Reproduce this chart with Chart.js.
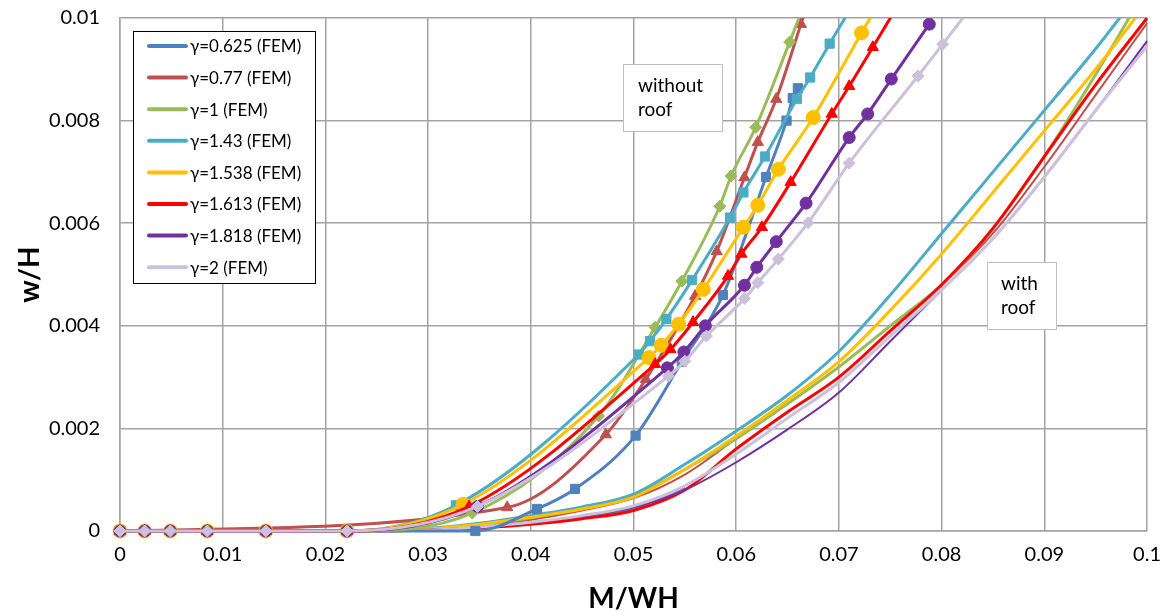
<!DOCTYPE html>
<html>
<head>
<meta charset="utf-8">
<script src="https://cdn.jsdelivr.net/npm/chart.js@4/dist/chart.umd.min.js"></script>
<style>
html,body{margin:0;padding:0;background:#fff;}
#wrap{position:relative;width:1173px;height:616px;}
</style>
</head>
<body>
<div id="wrap"><canvas id="c" width="1173" height="616"></canvas></div>
<script>
// ---------- tick labels ----------
const xTickLabels = ['0','0.01','0.02','0.03','0.04','0.05','0.06','0.07','0.08','0.09','0.1'];
const yTickLabels = ['0','0.002','0.004','0.006','0.008','0.01'];

// ---------- series names ----------
const seriesLabels = ['γ=0.625 (FEM)','γ=0.77 (FEM)','γ=1 (FEM)','γ=1.43 (FEM)','γ=1.538 (FEM)','γ=1.613 (FEM)','γ=1.818 (FEM)','γ=2 (FEM)'];

// ---------- "without roof" curves: [M/WH, w/H] ----------
const noRoof_0625 = [[0,0],[0.0024,0],[0.0049,0],[0.0085,0],[0.0142,0],[0.0221,0],[0.0346,0],[0.0406,0.00043],[0.0443,0.00082],[0.0502,0.00186],[0.0547,0.0033],[0.0587,0.0046],[0.0629,0.0069],[0.0649,0.0080],[0.0655,0.00844],[0.0660,0.00863]];
const noRoof_077  = [[0,0],[0.0377,0.00046],[0.0473,0.00188],[0.0512,0.00296],[0.0560,0.00458],[0.0581,0.00545],[0.0608,0.00689],[0.0621,0.00758],[0.0639,0.00842],[0.0663,0.00988],[0.0673,0.0105]];
const noRoof_1    = [[0,0],[0.0024,0],[0.0049,0],[0.0085,0],[0.0142,0],[0.0221,0],[0.0343,0.00035],[0.0466,0.00224],[0.0521,0.00397],[0.0547,0.00487],[0.0584,0.00633],[0.0595,0.00692],[0.0619,0.00787],[0.0652,0.00953],[0.0671,0.0105]];
const noRoof_143  = [[0,0],[0.0024,0],[0.0049,0],[0.0085,0],[0.0142,0],[0.0221,0],[0.0327,0.0005],[0.0505,0.00344],[0.0516,0.0037],[0.0532,0.00413],[0.0557,0.00489],[0.0594,0.00611],[0.0607,0.0066],[0.0628,0.0073],[0.0659,0.00842],[0.0672,0.00884],[0.0691,0.0095],[0.0721,0.0105]];
const noRoof_1538 = [[0,0],[0.0024,0],[0.0049,0],[0.0085,0],[0.0142,0],[0.0221,0],[0.0334,0.00052],[0.0515,0.00338],[0.0527,0.00362],[0.0544,0.00403],[0.0568,0.00471],[0.0607,0.00592],[0.0621,0.00635],[0.0641,0.00705],[0.0675,0.00806],[0.0722,0.00971],[0.0745,0.0105]];
const noRoof_1613 = [[0,0],[0.0024,0],[0.0049,0],[0.0085,0],[0.0142,0],[0.0221,0],[0.0340,0.00048],[0.0521,0.00325],[0.0536,0.00354],[0.0558,0.00407],[0.0592,0.00497],[0.0605,0.0054],[0.0625,0.00592],[0.0653,0.0068],[0.0693,0.00813],[0.0710,0.00867],[0.0733,0.00943],[0.0765,0.0105]];
const noRoof_1818 = [[0,0],[0.0024,0],[0.0049,0],[0.0085,0],[0.0142,0],[0.0221,0],[0.0348,0.00048],[0.0533,0.00318],[0.0549,0.00349],[0.0570,0.0040],[0.0608,0.00479],[0.0620,0.00514],[0.0639,0.00564],[0.0668,0.00639],[0.0710,0.00767],[0.0728,0.00813],[0.0751,0.00881],[0.0788,0.00988]];
const noRoof_2    = [[0,0],[0.0024,0],[0.0049,0],[0.0085,0],[0.0142,0],[0.0221,0],[0.0348,0.00048],[0.0534,0.00302],[0.0550,0.00331],[0.0571,0.0038],[0.0608,0.00453],[0.0621,0.00484],[0.0641,0.0053],[0.0670,0.00601],[0.0710,0.00717],[0.0777,0.00887],[0.0801,0.00949],[0.0840,0.0105]];

// ---------- "with roof" curves (shared M/WH values) ----------
const roofX      = [0, 0.02, 0.03, 0.035, 0.04, 0.045, 0.05, 0.055, 0.06, 0.065, 0.07, 0.075, 0.08, 0.085, 0.09, 0.095, 0.1];
const roof_0625  = [0, 0, 0.00002, 0.00007, 0.00016, 0.00028, 0.00045, 0.00085, null, null, null, null, null, null, null, null, null];
const roof_077   = [0, 0, 0.00003, 0.0001, 0.00022, 0.0004, 0.00064, 0.0011, 0.0018, 0.00248, 0.0032, 0.0040, 0.0048, 0.0058, 0.0071, 0.0085, 0.0099];
const roof_1     = [0, 0, 0.00003, 0.00012, 0.00026, 0.00044, 0.00068, 0.0012, 0.0018, 0.00248, 0.0032, 0.0040, 0.0048, 0.0059, 0.0073, 0.0089, 0.0106];
const roof_143   = [0, 0, 0.00005, 0.00015, 0.0003, 0.00047, 0.00072, 0.0013, 0.00195, 0.00265, 0.0035, 0.0046, 0.0058, 0.0070, 0.0082, 0.0094, 0.0107];
const roof_1538  = [0, 0, 0.00004, 0.00013, 0.00027, 0.00043, 0.00066, 0.0012, 0.00185, 0.00255, 0.0033, 0.0043, 0.0054, 0.0066, 0.0078, 0.0090, 0.0103];
const roof_1613  = [0, 0, 0.00002, 0.00006, 0.00013, 0.00024, 0.0004, 0.0008, 0.0016, 0.00232, 0.0030, 0.0039, 0.0048, 0.0059, 0.0073, 0.0087, 0.0100];
const roof_1818  = [0, 0, 0.00002, 0.00007, 0.00016, 0.00029, 0.00046, 0.0008, 0.00134, 0.00198, 0.0027, 0.0037, 0.0047, 0.0057, 0.0069, 0.0082, 0.00955];
const roof_2     = [0, 0, 0.00002, 0.00008, 0.00017, 0.0003, 0.00049, 0.00088, 0.0015, 0.0022, 0.0029, 0.0038, 0.0047, 0.0057, 0.0069, 0.0082, 0.00945];

// ---------- styles ----------
const colors  = ['#4F81BD','#C0504D','#9BBB59','#4BACC6','#FFC000','#FF0000','#7030A0','#CCC0DA'];
const markers = ['rect','triangle','rectRot','rect','circle','triangle','circle','rectRot'];
const markerR = [6.5, 6.5, 6, 6.5, 7, 6.5, 6, 6];
const roofWidth = [3, 2, 3, 3, 3, 3, 2, 3];

const noRoofSets = [noRoof_0625, noRoof_077, noRoof_1, noRoof_143, noRoof_1538, noRoof_1613, noRoof_1818, noRoof_2];
const roofSets   = [roof_0625, roof_077, roof_1, roof_143, roof_1538, roof_1613, roof_1818, roof_2];

const clipBox = {left: 12, top: 0, right: 1, bottom: 12};
const datasets = [];
roofSets.forEach((ys, i) => {
  const pts = [];
  roofX.forEach((x, j) => { if (ys[j] !== null) pts.push({x: x, y: ys[j]}); });
  datasets.push({
    label: seriesLabels[i] + ' with roof', data: pts, showLine: true,
    borderColor: colors[i], backgroundColor: colors[i], borderWidth: roofWidth[i],
    pointRadius: 0, pointHoverRadius: 0, cubicInterpolationMode: 'monotone',
    clip: clipBox, legendKey: false
  });
});
noRoofSets.forEach((arr, i) => {
  datasets.push({
    label: seriesLabels[i], data: arr.map(p => ({x: p[0], y: p[1]})), showLine: true,
    borderColor: colors[i], backgroundColor: colors[i], borderWidth: 3,
    pointStyle: markers[i], pointRadius: markerR[i], pointHoverRadius: markerR[i],
    pointBackgroundColor: colors[i], pointBorderColor: colors[i], pointBorderWidth: 1,
    cubicInterpolationMode: 'monotone', clip: clipBox, legendKey: true
  });
});
datasets.forEach((d, k) => { d.order = datasets.length - k; });

const FONT = 'Lato';
const GRID = '#A3A3A3';

const overlay = {
  id: 'overlay',
  afterDraw(chart) {
    const ctx = chart.ctx;
    ctx.save();
    // legend
    ctx.fillStyle = '#fff';
    ctx.fillRect(133.5, 31.5, 182, 252);
    ctx.strokeStyle = '#000';
    ctx.lineWidth = 1;
    ctx.strokeRect(133.5, 31.5, 182, 252);
    ctx.font = '17px ' + FONT;
    ctx.textBaseline = 'middle';
    ctx.textAlign = 'left';
    chart.data.datasets.filter(d => d.legendKey).forEach((d, i) => {
      const y = 46 + i * 31.6;
      ctx.strokeStyle = d.borderColor;
      ctx.lineWidth = 4;
      ctx.lineCap = 'round';
      ctx.beginPath(); ctx.moveTo(149, y); ctx.lineTo(186, y); ctx.stroke();
      ctx.fillStyle = '#000';
      ctx.fillText(d.label, 190, y + 1);
    });
    // annotation boxes
    ctx.lineCap = 'butt';
    ctx.lineWidth = 1;
    ctx.strokeStyle = '#BFBFBF';
    ctx.fillStyle = '#fff';
    ctx.fillRect(623.5, 64.5, 99, 67); ctx.strokeRect(623.5, 64.5, 99, 67);
    ctx.fillRect(987.5, 262.5, 69, 67); ctx.strokeRect(987.5, 262.5, 69, 67);
    ctx.fillStyle = '#000';
    ctx.font = '19px ' + FONT;
    ctx.textBaseline = 'alphabetic';
    ctx.fillText('without', 638, 92);
    ctx.fillText('roof', 638, 116);
    ctx.fillText('with', 1001, 290);
    ctx.fillText('roof', 1001, 314);
    ctx.restore();
  }
};

new Chart(document.getElementById('c'), {
  type: 'scatter',
  data: { datasets: datasets },
  options: {
    responsive: false, animation: false, devicePixelRatio: 1,
    layout: { padding: { top: 18, right: 24, left: 0, bottom: 0 } },
    plugins: { legend: { display: false }, tooltip: { enabled: false } },
    scales: {
      x: {
        type: 'linear', min: 0, max: 0.1,
        ticks: { stepSize: 0.01, autoSkip: false, maxRotation: 0, padding: 12, color: '#000',
                 font: { family: FONT, size: 20 },
                 callback: v => xTickLabels[Math.round(v / 0.01)] },
        grid: { color: GRID, lineWidth: 1.5, drawTicks: false },
        border: { color: GRID, width: 1.5 },
        title: { display: true, text: 'M/WH', color: '#000', font: { family: FONT, size: 28, weight: 'bold' }, padding: { top: 0, bottom: 0 } },
        afterFit(s) { s.height = 85; }
      },
      y: {
        type: 'linear', min: 0, max: 0.01,
        ticks: { stepSize: 0.002, autoSkip: false, padding: 20, color: '#000',
                 font: { family: FONT, size: 20 },
                 callback: v => yTickLabels[Math.round(v / 0.002)] },
        grid: { color: GRID, lineWidth: 1.5, drawTicks: false },
        border: { color: GRID, width: 1.5 },
        title: { display: true, text: 'w/H', color: '#000', font: { family: FONT, size: 28, weight: 'bold' }, padding: { top: 13, bottom: 0 } },
        afterFit(s) { s.width = 120; s.paddingTop = 10; s.paddingBottom = 10; }
      }
    }
  },
  plugins: [overlay]
});
</script>
</body>
</html>
